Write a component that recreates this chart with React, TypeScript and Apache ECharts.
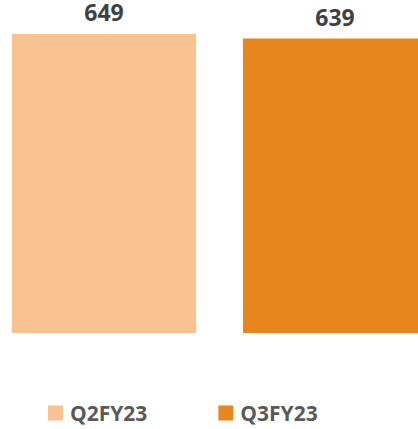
import React, { useEffect, useRef } from "react";
import * as echarts from "echarts";

const categories = ["Total"];
const seriesNames = ["Q2FY23", "Q3FY23"];
const seriesValues = [649, 639];
const colors = ["#F8C291", "#E6861D"];

export default function App() {
  const ref = useRef<HTMLDivElement>(null);
  useEffect(() => {
    if (!ref.current) return;
    const chart = echarts.init(ref.current, null, { renderer: "svg" });
    chart.setOption({
      animation: false,
      grid: { left: 12, width: 415, top: 34, height: 299, containLabel: false },
      xAxis: {
        type: "category",
        data: categories,
        show: false,
      },
      yAxis: { type: "value", min: 0, max: 649, show: false },
      legend: {
        left: 48,
        top: 401,
        itemWidth: 15,
        itemHeight: 15,
        itemGap: 71,
        icon: "rect",
        padding: 0,
        textStyle: {
          fontFamily: "Open Sans",
          fontWeight: "bold",
          fontSize: 21,
          lineHeight: 24,
          color: "#595959",
          padding: [0, 0, 0, 2],
        },
        data: seriesNames,
      },
      series: seriesNames.map((name, i) => ({
        name,
        type: "bar",
        data: [seriesValues[i]],
        barGap: "25.5%",
        barCategoryGap: 0,
        itemStyle: { color: colors[i] },
        label: {
          show: true,
          position: "top",
          distance: 12,
          fontFamily: "Open Sans",
          fontWeight: "bold",
          fontSize: 23,
          lineHeight: 20,
          color: "#404040",
        },
      })),
    });
    return () => chart.dispose();
  }, []);
  return (
    <div style={{ width: 418, height: 429, position: "absolute", left: 0, top: 0, overflow: "hidden" }}>
      <div ref={ref} style={{ width: 440, height: 429 }} />
    </div>
  );
}
